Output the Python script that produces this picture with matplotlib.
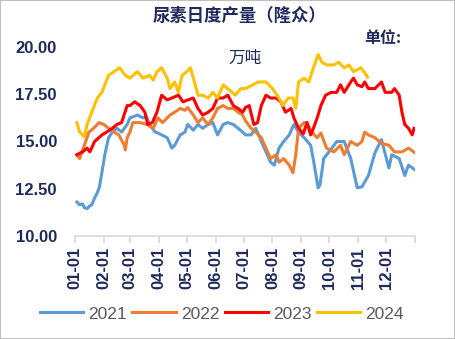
import numpy as np
import matplotlib
matplotlib.use("Agg")
import matplotlib.pyplot as plt
from matplotlib.patches import Rectangle

plt.rcParams['font.family'] = ['Liberation Sans', 'Noto Sans CJK SC', 'DejaVu Sans']

# day of year (Jan 1 = 0) and daily output (10k tonnes)
d2021 = [2, 5, 8, 10, 13, 16, 18, 21, 24, 26, 29, 32, 36, 40, 45, 50, 56, 59, 62, 67,
         73, 77, 80, 86, 89, 93, 99, 104, 107, 113, 118, 121, 127, 132, 137, 143, 148,
         153, 159, 164, 170, 175, 180, 183, 189, 194, 200, 205, 210, 214, 219, 224, 230,
         235, 240, 246, 253, 256, 261, 263, 267, 275, 281, 289, 296, 303, 308, 315, 322,
         329, 337, 340, 348, 354, 358, 365]
v2021 = [11.8, 11.65, 11.7, 11.5, 11.45, 11.6, 11.65, 12.0, 12.3, 12.55, 13.4, 14.3, 15.2,
         15.5, 15.7, 15.5, 15.9, 16.25, 16.3, 16.4, 16.25, 16.3, 15.9, 15.5, 15.45, 15.35,
         15.2, 14.65, 14.8, 15.35, 15.5, 15.9, 15.6, 15.9, 15.7, 15.9, 16.0, 15.35, 15.9,
         16.0, 15.9, 15.7, 15.5, 15.35, 15.35, 15.7, 15.0, 14.45, 13.9, 13.75, 14.65, 15.0,
         15.35, 15.9, 15.5, 15.2, 14.8, 14.0, 12.55, 12.7, 14.1, 14.6, 15.0, 15.0, 14.1,
         12.55, 12.6, 13.2, 14.4, 15.1, 13.6, 14.3, 14.1, 13.2, 13.75, 13.5]

d2022 = [2, 5, 10, 15, 20, 26, 31, 36, 42, 47, 53, 54, 56, 59, 62, 70, 77, 84, 89, 94,
         102, 107, 113, 118, 121, 127, 132, 137, 143, 148, 153, 159, 164, 170, 175, 180,
         183, 189, 194, 200, 205, 210, 216, 219, 224, 230, 234, 237, 240, 246, 249, 254,
         260, 264, 270, 278, 285, 289, 296, 303, 308, 311, 315, 322, 329, 337, 343, 351,
         358, 365]
v2022 = [14.3, 14.1, 14.8, 15.5, 15.7, 16.0, 15.9, 15.7, 15.5, 15.35, 14.8, 14.55, 15.2,
         15.5, 16.0, 16.0, 15.9, 15.7, 16.25, 16.0, 16.4, 16.55, 16.75, 16.65, 16.8, 16.4,
         16.0, 16.25, 15.9, 16.25, 16.75, 16.9, 16.75, 16.75, 16.55, 16.4, 16.1, 15.7,
         15.5, 15.2, 14.65, 14.1, 14.3, 13.9, 14.1, 13.75, 13.35, 14.3, 15.7, 16.0, 16.0,
         15.5, 15.2, 15.45, 14.65, 14.45, 14.8, 14.3, 15.0, 14.8, 15.0, 15.5, 15.35, 15.2,
         14.9, 14.8, 14.45, 14.45, 14.65, 14.4]

d2023 = [2, 8, 13, 16, 21, 29, 34, 40, 45, 50, 56, 59, 64, 70, 75, 78, 83, 88, 93, 99,
         104, 111, 116, 121, 127, 132, 137, 143, 148, 153, 159, 164, 170, 175, 180, 183,
         187, 192, 196, 200, 205, 210, 216, 221, 226, 232, 235, 240, 245, 249, 253, 256,
         260, 264, 269, 275, 281, 285, 289, 296, 299, 303, 308, 311, 315, 322, 329, 333,
         340, 343, 348, 351, 354, 358, 362, 364]
v2023 = [14.3, 14.45, 14.65, 14.45, 15.0, 15.35, 15.5, 15.7, 15.9, 16.0, 16.9, 16.9, 17.1,
         16.9, 16.55, 15.9, 16.0, 16.55, 17.45, 17.2, 17.3, 17.45, 17.1, 17.2, 17.3, 16.75,
         16.4, 16.55, 16.75, 17.3, 17.3, 17.45, 16.9, 16.75, 16.55, 16.8, 16.9, 15.9, 16.0,
         16.9, 17.45, 17.3, 17.3, 17.1, 16.55, 16.75, 16.25, 15.7, 15.4, 16.0, 15.35, 15.7,
         16.25, 16.9, 17.45, 17.6, 17.6, 18.0, 17.6, 18.15, 18.35, 18.0, 17.9, 18.15, 17.8,
         17.8, 18.15, 17.6, 17.6, 17.8, 17.45, 16.55, 15.9, 15.7, 15.35, 15.7]

d2024 = [2, 5, 10, 13, 18, 24, 29, 32, 36, 42, 48, 54, 59, 67, 73, 80, 84, 88, 93, 99,
         102, 107, 111, 115, 120, 124, 129, 132, 137, 143, 148, 153, 159, 164, 172, 178,
         183, 191, 197, 205, 212, 219, 223, 229, 234, 237, 240, 246, 251, 256, 261, 265,
         270, 278, 283, 289, 294, 299, 307, 313, 314]
v2024 = [16.0, 15.5, 15.25, 15.9, 16.55, 17.3, 17.6, 18.0, 18.5, 18.7, 18.9, 18.5, 18.35,
         18.7, 18.35, 18.5, 18.25, 18.7, 18.9, 18.35, 17.8, 18.15, 17.6, 18.5, 18.7, 18.9,
         18.0, 17.45, 17.45, 17.3, 17.6, 17.3, 18.0, 17.8, 17.45, 17.8, 17.8, 18.0, 18.15,
         18.15, 17.8, 17.3, 16.9, 17.3, 17.3, 16.75, 18.15, 18.35, 18.15, 18.9, 19.6, 19.2,
         19.05, 19.05, 19.2, 18.9, 19.05, 18.7, 18.9, 18.5, 18.4]

month_starts = [0, 31, 59, 90, 120, 151, 181, 212, 243, 273, 304, 334, 365]
month_labels = ['01-01', '02-01', '03-01', '04-01', '05-01', '06-01', '07-01',
                '08-01', '09-01', '10-01', '11-01', '12-01', '']
years = ['2021', '2022', '2023', '2024']
colors = ['#5B9BD5', '#ED7D31', '#FF0000', '#FFC000']

navy = '#1F2A5C'
cjk = ['Noto Sans CJK SC', 'DejaVu Sans']

fig = plt.figure(figsize=(4.55, 3.39), dpi=100)
ax = fig.add_axes([75/455, 1-236/339, 340/455, 189/339])

series = [(d2021, v2021), (d2022, v2022), (d2023, v2023), (d2024, v2024)]
for (d, v), c, lab in zip(series, colors, years):
    ax.plot(d, v, color=c, lw=2.2, label=lab, solid_joinstyle='round')

ax.set_xlim(0, 365)
ax.set_ylim(10, 20)
ax.set_yticks([10, 12.5, 15, 17.5, 20])
ax.set_yticklabels(['%.2f' % t for t in [10, 12.5, 15, 17.5, 20]])
ax.set_xticks(month_starts)
ax.set_xticklabels(month_labels, rotation=90)
for s in ['top', 'right', 'left']:
    ax.spines[s].set_visible(False)
ax.spines['bottom'].set_color('#D9D9D9')
ax.spines['bottom'].set_linewidth(1.2)
ax.tick_params(axis='y', length=0, pad=13, labelsize=12, labelcolor=navy)
ax.tick_params(axis='x', length=5, width=1.2, color='#D9D9D9', pad=3,
               labelsize=12, labelcolor=navy)
for t in ax.get_yticklabels() + ax.get_xticklabels():
    t.set_fontweight('bold')

fig.text(240/455, 1-16/339, '尿素日度产量（隆众）', ha='center', va='center',
         fontsize=12.5, fontweight='bold', color=navy, family=cjk)
fig.text(383/455, 1-38/339, '单位:', ha='center', va='center',
         fontsize=11.5, fontweight='bold', color=navy, family=cjk)
fig.text(245/455, 1-58/339, '万吨', ha='center', va='center',
         fontsize=12, color=navy, family=cjk)

fig.legend(loc='center', bbox_to_anchor=(222/455, 1-314/339), ncol=4, frameon=False,
           fontsize=12.5, labelcolor='#595959', handlelength=2.5, handletextpad=0.3,
           columnspacing=0.3)

fig.patches.append(Rectangle((0, 0), 1, 1, transform=fig.transFigure, fill=False,
                             edgecolor='#BFBFBF', lw=1.5))

fig.savefig('out.png', dpi=100)
